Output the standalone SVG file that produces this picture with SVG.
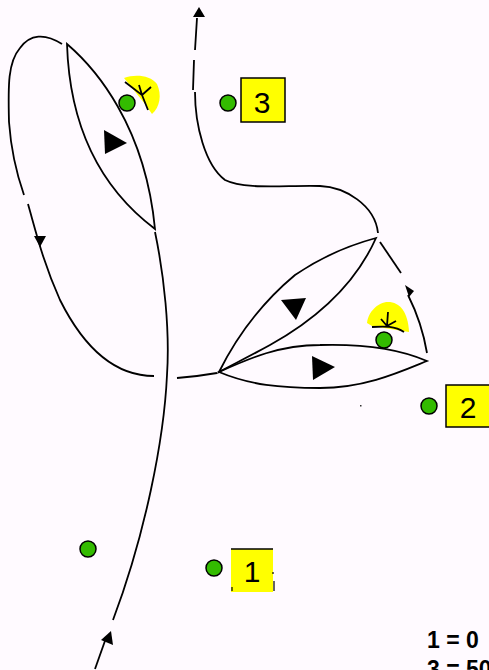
<svg xmlns="http://www.w3.org/2000/svg" width="489" height="670" viewBox="0 0 489 670">
<style>
.c{fill:none;stroke:#000;stroke-width:1.8}
.a{fill:#000;stroke:none}
.d{fill:#33bb00;stroke:#000;stroke-width:1.5}
.b{fill:#ffff00;stroke:#000;stroke-width:1.5}
.y{fill:#ffff00;stroke:none}
.t{font-family:"Liberation Sans",Arial,sans-serif;font-size:30px;fill:#000;text-anchor:middle}
.k{font-family:"Liberation Sans",Arial,sans-serif;font-size:23px;font-weight:bold;fill:#000}
</style>
<rect width="489" height="670" fill="#fffaff"/>
<rect x="360" y="405" width="1.5" height="1.5" fill="#333"/>
<g id="marker-top">
<path class="y" d="M124 78C135 74 150 75 157 84C162 95 160 107 152 114L145 104Z"/>
<path class="c" d="M125 82L142 95L148 110M142 95L151 87M142 95L139 85"/>
</g>
<g id="marker-right">
<path class="y" d="M367 323C368 312 378 302 388 302C400 302 408 312 409 332L372 326Z"/>
<path class="c" d="M372 327C385 326 395 326 404 332M387 326L388 312M381 319L387 326M396 321L387 326"/>
</g>
<g id="connectors">
<path class="c" d="M62 44C45 33 30 34 20 48C8 62 8 85 9 122C11 150 17 175 24 195"/>
<path class="c" d="M28 204C36 232 43 262 60 300C80 340 110 376 154 376"/>
<path class="c" d="M155 232C164 275 170 330 167 375C164 440 145 535 113 620"/>
<path class="c" d="M106 638L95 669"/>
<path class="c" d="M177 378C190 377 200 376 217 373"/>
<path class="c" d="M67 44C95 68 145 125 155 229C110 195 70 140 67 44Z"/>
<path class="c" d="M197 18L195 50M194 60L193 90M195 92C195 125 205 165 225 180C245 190 285 185 320 186C345 187 375 205 378 233"/>
<path class="c" d="M219 372C240 330 265 300 295 275C320 258 350 245 376 238C355 285 315 320 270 345C250 356 232 365 219 372Z"/>
<path class="c" d="M219 372C250 358 280 345 320 345C355 344 395 347 427 361C400 372 365 388 320 388C280 388 250 385 219 372Z"/>
<path class="c" d="M380 242L401 273"/>
<path class="c" d="M408 295C418 315 424 335 427 353"/>
<polygon class="a" points="199,7 193,17 205,17"/>
<polygon class="a" points="40,247 34,236 46,236"/>
<polygon class="a" points="104,130 127,143 105,154"/>
<polygon class="a" points="281,300 306,298 296,320"/>
<polygon class="a" points="312,356 335,367 313,380"/>
<polygon class="a" points="405,285 414,291 409,297"/>
<polygon class="a" points="111,631 101,640 113,645"/>
</g>
<g id="dot-a"><circle class="d" cx="127" cy="103" r="8"/></g>
<g id="dot-b"><circle class="d" cx="228" cy="103" r="8"/></g>
<g id="dot-c"><circle class="d" cx="384" cy="340" r="8"/></g>
<g id="dot-d"><circle class="d" cx="429" cy="406" r="8"/></g>
<g id="dot-e"><circle class="d" cx="88" cy="549" r="8"/></g>
<g id="dot-f"><circle class="d" cx="214" cy="568" r="8"/></g>
<g id="label-3"><rect class="b" x="241" y="78" width="44" height="44"/><text class="t" x="262" y="113">3</text></g>
<g id="label-2"><rect class="b" x="446" y="385" width="44" height="42"/><text class="t" x="468" y="418">2</text></g>
<g id="label-1"><rect class="y" x="231" y="549" width="42" height="43"/><path d="M231 549H273" stroke="#000" stroke-width="1.5"/><path d="M273 572V574M274 581V591M232 587V591" stroke="#000" stroke-width="1.2"/><text class="t" x="252" y="582">1</text></g>
<g id="legend"><text class="k" x="427" y="648">1 = 0</text><text class="k" x="427" y="677">3 = 50</text></g>
</svg>
